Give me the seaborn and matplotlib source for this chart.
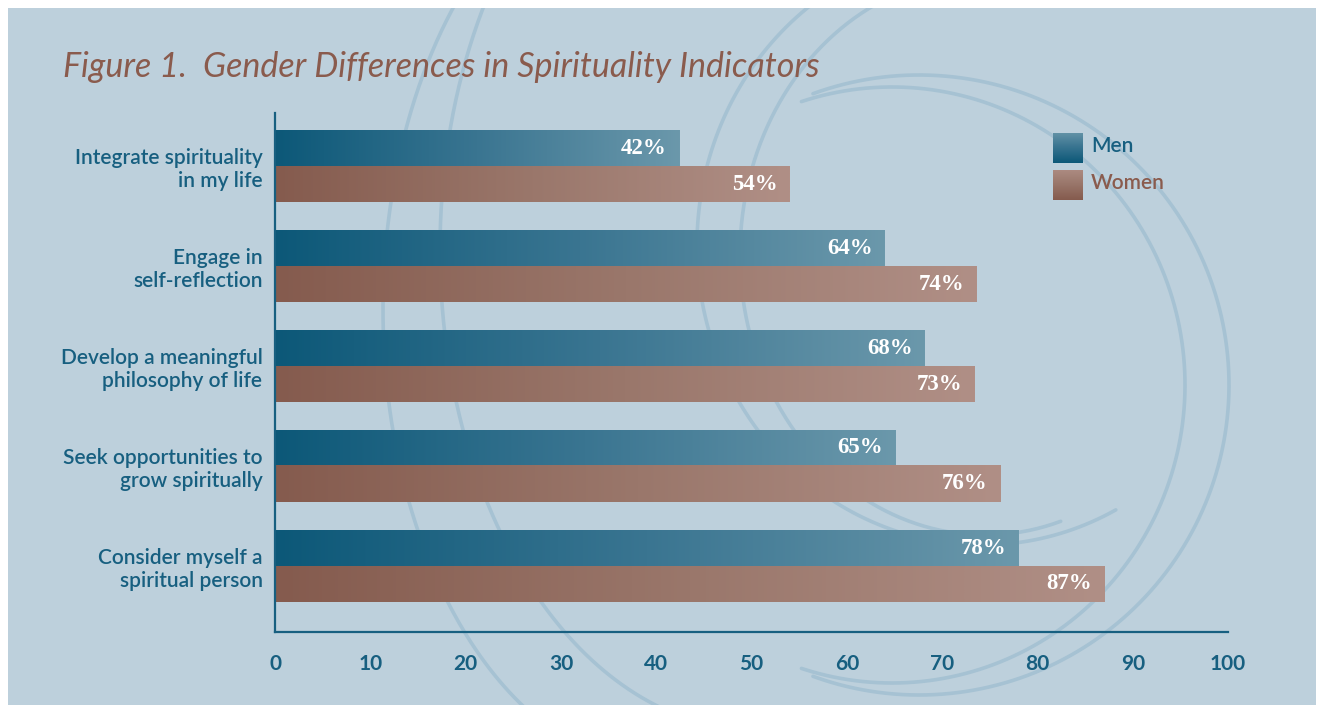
import numpy as np
import pandas as pd
import matplotlib
matplotlib.use("Agg")
import matplotlib.pyplot as plt
import seaborn as sns
from matplotlib.colors import LinearSegmentedColormap
from matplotlib.patches import Rectangle

# values
items = ["Integrate spirituality\nin my life", "Engage in\nself-reflection",
         "Develop a meaningful\nphilosophy of life", "Seek opportunities to\ngrow spiritually",
         "Consider myself a\nspiritual person"]
men = [42.4, 64.0, 68.2, 65.1, 78.0]
women = [54.0, 73.6, 73.4, 76.1, 87.0]
groups = ["Men", "Women"]
xticks = list(range(0, 101, 10))

df = pd.DataFrame({"item": items * 2,
                   "pct": men + women,
                   "group": [groups[0]] * len(men) + [groups[1]] * len(women)})

teal = "#175f80"
brown = "#8a5b4d"
bg = "#bdd0dc"
arc_col = "#a6c2d3"
men_cmap = LinearSegmentedColormap.from_list("men", ["#0c5878", "#3a7591", "#6b98ab"])
women_cmap = LinearSegmentedColormap.from_list("women", ["#855b4e", "#9a776b", "#b08f86"])

sns.set_style("white")
plt.rcParams["font.family"] = ["Lato", "DejaVu Sans"]

fig = plt.figure(figsize=(13.23, 7.12), dpi=100)

# background panel with the faint decorative arcs (pixel coordinates)
bax = fig.add_axes([0, 0, 1, 1], zorder=0)
bax.set_xlim(0, 1323)
bax.set_ylim(712, 0)
bax.axis("off")
panel = Rectangle((8, 8), 1308, 697, facecolor=bg, edgecolor="none")
bax.add_patch(panel)
arcs = [  # cx, cy, a, b, start, end (degrees, y down)
    (668, 310, 285, 460, 110, 235),
    (756, 250, 316, 480, 100, 225),
    (982, 245, 285, 300, 62, 262),
    (985, 255, 245, 280, 72, 262),
    (919, 385, 310, 310, -110, 110),
    (892, 385, 293, 298, -108, 108),
]
for cx, cy, a, b, t0, t1 in arcs:
    t = np.radians(np.linspace(t0, t1, 300))
    line, = bax.plot(cx + a * np.cos(t), cy + b * np.sin(t), color=arc_col, lw=2.6,
                     solid_capstyle="round")
    line.set_clip_path(panel)

# main chart
ax = fig.add_axes([275 / 1323, 1 - 632 / 712, (1228 - 275) / 1323, (632 - 113) / 712], zorder=1)
ax.patch.set_alpha(0)
sns.barplot(data=df, x="pct", y="item", hue="group", orient="h",
            palette={"Men": men_cmap(0.0), "Women": women_cmap(0.0)},
            width=0.72, dodge=True, legend=False, saturation=1,
            edgecolor="none", linewidth=0, ax=ax)

grad = np.linspace(0, 1, 256).reshape(1, -1)
for bar in list(ax.patches):
    x0, y0 = bar.get_x(), bar.get_y()
    w, h = bar.get_width(), bar.get_height()
    is_men = np.allclose(bar.get_facecolor()[:3], men_cmap(0.0)[:3], atol=0.01)
    cmap = men_cmap if is_men else women_cmap
    ax.imshow(grad, cmap=cmap, extent=[x0, x0 + w, y0 + h, y0], aspect="auto",
              interpolation="bilinear", zorder=2)
    bar.set_visible(False)
    ax.text(x0 + w - 1.3, y0 + h / 2, f"{w:.0f}%", ha="right", va="center",
            color="white", fontsize=16.5, fontweight="bold",
            family=["Liberation Serif", "DejaVu Serif"], zorder=3)

ax.set_xlim(0, 100)
ax.set_ylim(4.66, -0.53)
ax.set_xticks(xticks)
ax.set_xlabel("")
ax.set_ylabel("")
for s in ["top", "right"]:
    ax.spines[s].set_visible(False)
for s in ["left", "bottom"]:
    ax.spines[s].set_color(teal)
    ax.spines[s].set_linewidth(1.6)
ax.tick_params(axis="x", direction="out", length=10, width=1.4, color=teal, pad=6,
               labelsize=15, labelcolor=teal)
ax.tick_params(axis="y", length=0, pad=9, labelsize=15, labelcolor=teal)
for lbl in ax.get_xticklabels():
    lbl.set_fontweight("bold")
for lbl in ax.get_yticklabels():
    lbl.set_fontweight("semibold")
    lbl.set_linespacing(1.2)

fig.text(63 / 1323, 1 - 77 / 712, "Figure 1.  Gender Differences in Spirituality Indicators",
         style="italic", fontsize=24.5, color=brown, va="baseline")

# legend with gradient swatches
vgrad = np.linspace(0.9, 0, 64).reshape(-1, 1)
for k, (name, cmap, col) in enumerate(zip(groups, [men_cmap, women_cmap], [teal, brown])):
    top = 133 + 37 * k
    lax = fig.add_axes([1053 / 1323, 1 - (top + 30) / 712, 30 / 1323, 30 / 712], zorder=2)
    lax.imshow(vgrad, cmap=cmap, vmin=0, vmax=1, aspect="auto")
    lax.axis("off")
    fig.text(1091 / 1323, 1 - (top + 13) / 712, name, color=col, fontsize=15,
             fontweight="semibold", va="center")

fig.savefig("out.png", dpi=100)
